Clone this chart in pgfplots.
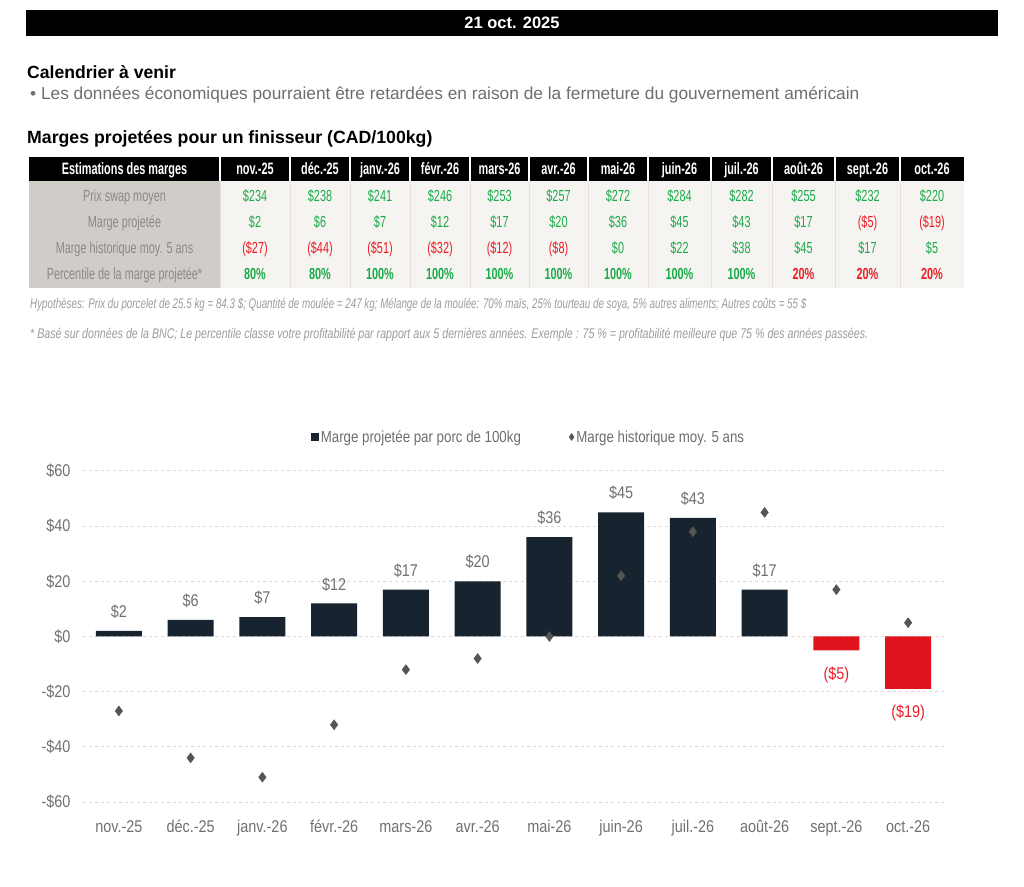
\documentclass[border=0pt]{standalone}
\usepackage{fontspec}
\setmainfont{Liberation Sans}
\newfontfamily\tabf[FakeStretch=0.68]{Liberation Sans}
\newfontfamily\tabh[FakeStretch=0.66]{Liberation Sans}
\newfontfamily\notef[FakeStretch=0.70]{Liberation Sans}
\newfontfamily\noteg[FakeStretch=0.76]{Liberation Sans}
\newfontfamily\chartf[FakeStretch=0.85]{Liberation Sans}
\newfontfamily\legf[FakeStretch=0.83]{Liberation Sans}
\usepackage{pgfplots}
\pgfplotsset{compat=1.18}
\definecolor{navy}{HTML}{17232E}
\definecolor{barred}{HTML}{E1141E}
\definecolor{grn}{HTML}{1AAA4A}
\definecolor{rd}{HTML}{EC1C24}
\definecolor{colgray}{HTML}{D0CDC8}
\definecolor{cellbg}{HTML}{F6F4F1}
\definecolor{sepgray}{HTML}{E4E1DC}
\definecolor{labgray}{HTML}{8A8A8A}
\definecolor{notegray}{HTML}{9C9C9C}
\definecolor{txtgray}{HTML}{6E6E6E}
\definecolor{tickgray}{HTML}{707070}
\definecolor{gridgray}{HTML}{D9D9D9}
\definecolor{dia}{HTML}{555555}
\pgfplotsset{
  sqlegend/.style={legend image code/.code={\fill[navy] (0pt,-4pt) rectangle (8pt,4pt);}},
  dialegend/.style={legend image code/.code={\fill[dia] (4pt,3.5pt) -- (6.5pt,0pt) -- (4pt,-3.5pt) -- (1.5pt,0pt) -- cycle;}},
}

\begin{document}
\begin{tikzpicture}[x=1pt,y=1pt]
\path[use as bounding box] (0,0) rectangle (1024,886);
\begin{scope}[y=-1pt, shift={(0pt,886pt)}]
% header band
\fill[black] (26,10) rectangle (998,36);
\node[text=white, font=\fontsize{16.5}{18}\selectfont\bfseries] at (512,23) {21 oct. 2025};
\node[anchor=base west, inner sep=0, font=\fontsize{17.6}{20}\selectfont\bfseries] at (27,79) {Calendrier à venir};
\node[anchor=base west, inner sep=0, text=txtgray, font=\fontsize{17.3}{19}\selectfont] at (30,100)
  {\textbullet\ Les données économiques pourraient être retardées en raison de la fermeture du gouvernement américain};
\node[anchor=base west, inner sep=0, font=\fontsize{17.7}{20}\selectfont\bfseries] at (27,144) {Marges projetées pour un finisseur (CAD/100kg)};

% table
\fill[black] (29,157) rectangle (964,181);
\fill[colgray] (29,181) rectangle (220,288);
\fill[cellbg] (220,181) rectangle (964,288);
\foreach \x in {220,290,350,410,470,529,588,648,711,772,835,900} {
  \draw[white, line width=1.2pt] (\x,157) -- (\x,181);
  \draw[sepgray, line width=1pt] (\x,181) -- (\x,288);
}
\begin{scope}[every node/.style={anchor=base, inner sep=0pt, font=\tabf\fontsize{16}{18}\selectfont}]
\node[text=white, font=\tabh\fontsize{16.5}{18}\selectfont\bfseries] at (124.5,175) {Estimations des marges};
\node[text=labgray] at (124.5,201.5) {Prix swap moyen};
\node[text=labgray] at (124.5,227.5) {Marge projetée};
\node[text=labgray] at (124.5,253.5) {Marge historique moy. 5 ans};
\node[text=labgray] at (124.5,279.5) {Percentile de la marge projetée*};
\foreach \a/\b/\hd/\p/\m/\mc/\h/\hc/\q/\qc in {
  220/290/nov.-25/234/\$2/grn/(\$27)/rd/80/grn,
  290/350/déc.-25/238/\$6/grn/(\$44)/rd/80/grn,
  350/410/janv.-26/241/\$7/grn/(\$51)/rd/100/grn,
  410/470/févr.-26/246/\$12/grn/(\$32)/rd/100/grn,
  470/529/mars-26/253/\$17/grn/(\$12)/rd/100/grn,
  529/588/avr.-26/257/\$20/grn/(\$8)/rd/100/grn,
  588/648/mai-26/272/\$36/grn/\$0/grn/100/grn,
  648/711/juin-26/284/\$45/grn/\$22/grn/100/grn,
  711/772/juil.-26/282/\$43/grn/\$38/grn/100/grn,
  772/835/août-26/255/\$17/grn/\$45/grn/20/rd,
  835/900/sept.-26/232/(\$5)/rd/\$17/grn/20/rd,
  900/964/oct.-26/220/(\$19)/rd/\$5/grn/20/rd} {
  \node[text=white, font=\tabh\fontsize{16.5}{18}\selectfont\bfseries] at ({(\a+\b)/2},175) {\hd};
  \node[text=grn] at ({(\a+\b)/2},201.5) {\$\p};
  \node[text=\mc] at ({(\a+\b)/2},227.5) {\m};
  \node[text=\hc] at ({(\a+\b)/2},253.5) {\h};
  \node[text=\qc, font=\tabf\fontsize{16}{18}\selectfont\bfseries] at ({(\a+\b)/2},279.5) {\q\%};
}
\end{scope}
\node[anchor=base west, inner sep=0, text=notegray, font=\notef\itshape\fontsize{14}{16}\selectfont] at (30,309)
  {Hypothèses: Prix du porcelet de 25.5 kg = 84.3 \$; Quantité de moulée = 247 kg; Mélange de la moulée: 70\% maïs, 25\% tourteau de soya, 5\% autres aliments; Autres coûts = 55 \$};
\node[anchor=base west, inner sep=0, text=notegray, font=\noteg\itshape\fontsize{14}{16}\selectfont] at (30,339)
  {* Basé sur données de la BNC; Le percentile classe votre profitabilité par rapport aux 5 dernières années. Exemple : 75 \% = profitabilité meilleure que 75 \% des années passées.};
\end{scope}

\begin{axis}[
  at={(83pt,84pt)}, anchor=south west,
  width=861pt, height=331pt, scale only axis,
  xmin=-0.5, xmax=11.5, ymin=-60, ymax=60,
  axis line style={draw=none},
  major tick length=0pt,
  /pgf/number format/assume math mode=true,
  ytick={-60,-40,-20,0,20,40,60},
  yticklabels={-\$60,-\$40,-\$20,\$0,\$20,\$40,\$60},
  xtick={0,...,11},
  xticklabels={nov.-25,déc.-25,janv.-26,févr.-26,mars-26,avr.-26,mai-26,juin-26,juil.-26,août-26,sept.-26,oct.-26},
  ymajorgrids,
  grid style={gridgray, line width=1pt, dash pattern=on 3pt off 3pt},
  tick label style={font=\chartf\fontsize{17}{19}\selectfont, text=tickgray},
  xticklabel style={anchor=base, yshift=-30pt},
  yticklabel style={xshift=-9pt},
  legend style={at={(0.5,1)}, anchor=center, xshift=15pt, yshift=34pt,
    draw=none, fill=none, legend columns=2, text=txtgray,
    font=\legf\fontsize{16}{18}\selectfont,
    /tikz/every even column/.append style={column sep=46pt}},
]
\addplot[ybar, bar width=46pt, bar shift=0pt, fill=navy, draw=none, sqlegend,
  point meta=y, nodes near coords={\$\pgfmathprintnumber{\pgfplotspointmeta}},
  nodes near coords style={anchor=south, inner sep=0pt, yshift=12pt, text=tickgray, font=\chartf\fontsize{17}{19}\selectfont}]
  coordinates {(0,2) (1,6) (2,7) (3,12) (4,17) (5,20) (6,36) (7,45) (8,43) (9,17)};
\addlegendentry{Marge projetée par porc de 100kg}
\addplot[ybar, bar width=46pt, bar shift=0pt, fill=barred, draw=none, forget plot,
  point meta=explicit, nodes near coords={(\$\pgfmathprintnumber{\pgfplotspointmeta})},
  nodes near coords style={anchor=north, inner sep=0pt, yshift=-16pt, text=rd, font=\chartf\fontsize{17}{19}\selectfont}]
  coordinates {(10,-5) [5] (11,-19) [19]};
\addplot[only marks, mark=diamond*, mark size=5pt, color=dia, dialegend]
  coordinates {(0,-27) (1,-44) (2,-51) (3,-32) (4,-12) (5,-8) (6,0) (7,22) (8,38) (9,45) (10,17) (11,5)};
\addlegendentry{Marge historique moy. 5 ans}
\end{axis}
\end{tikzpicture}
\end{document}
